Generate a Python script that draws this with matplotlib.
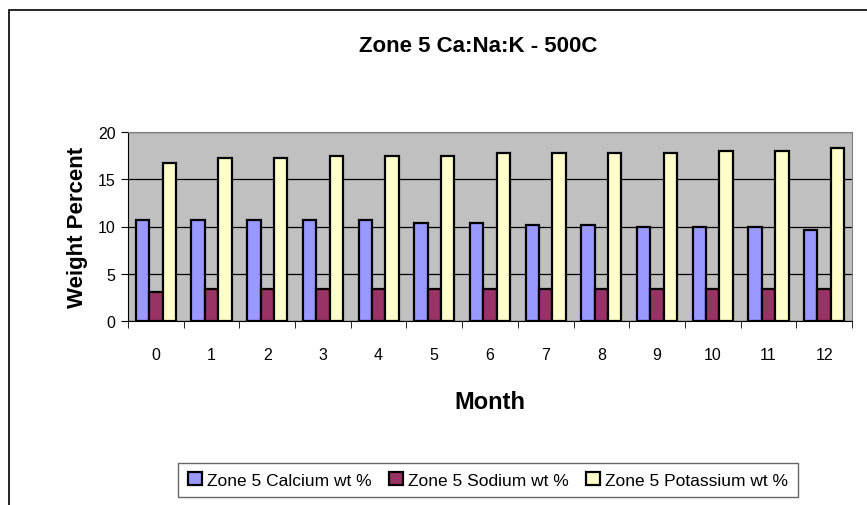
import matplotlib.pyplot as plt
import numpy as np
from matplotlib.patches import Rectangle

plt.rcParams["font.family"] = ["Liberation Sans", "DejaVu Sans"]

months = [str(m) for m in range(13)]
calcium = [10.7, 10.7, 10.7, 10.7, 10.7, 10.4, 10.4, 10.2, 10.2, 9.9, 9.9, 9.9, 9.6]
sodium = [3.1, 3.4, 3.4, 3.4, 3.4, 3.4, 3.4, 3.4, 3.4, 3.4, 3.4, 3.4, 3.4]
potassium = [16.7, 17.2, 17.2, 17.5, 17.5, 17.5, 17.8, 17.8, 17.8, 17.8, 18.0, 18.0, 18.3]
series_labels = ["Zone 5 Calcium wt %", "Zone 5 Sodium wt %", "Zone 5 Potassium wt %"]
colors = ["#9999FF", "#993366", "#FFFFCC"]


def main() -> None:
    fig = plt.figure(figsize=(8.67, 5.06), dpi=100)
    W, H = 867, 506
    ax = fig.add_axes([128 / W, 1 - 322 / H, (852 - 128) / W, (322 - 133) / H])
    ax.set_facecolor("#C0C0C0")

    # outer chart frame (cropped on right and bottom)
    fig.add_artist(Rectangle((9 / W, -0.1), 1.2, 1 - 11 / H + 0.1,
                             transform=fig.transFigure, fill=False,
                             edgecolor="black", linewidth=1.2))

    x = np.arange(len(months))
    w = 0.24
    for i, (vals, lab, col) in enumerate(zip([calcium, sodium, potassium], series_labels, colors)):
        ax.bar(x + (i - 1) * w, vals, width=w, color=col, edgecolor="black",
               linewidth=1.6, label=lab, zorder=3)

    ax.set_xlim(-0.5, 12.5)
    ax.set_ylim(0, 20)
    ax.set_yticks([0, 5, 10, 15, 20])
    ax.yaxis.grid(True, color="black", linewidth=0.9, zorder=1)
    ax.set_xticks(x)
    ax.set_xticklabels(months)
    ax.set_xticks(np.arange(-0.5, 13, 1), minor=True)
    ax.tick_params(axis="x", which="major", length=0, pad=19, labelsize=11.5)
    ax.tick_params(axis="x", which="minor", length=5, direction="out", color="black")
    ax.tick_params(axis="y", length=5, direction="out", labelsize=11.5, pad=4)
    for s in ["top", "right"]:
        ax.spines[s].set_color("#808080")
    for s in ["left", "bottom"]:
        ax.spines[s].set_color("black")

    ax.set_xlabel("Month", fontsize=17, fontweight="bold", labelpad=20)
    ax.set_ylabel("Weight Percent", fontsize=16, fontweight="bold", labelpad=7)
    fig.text(478 / W, 1 - 47 / H, "Zone 5 Ca:Na:K - 500C", ha="center", va="center",
             fontsize=16, fontweight="bold")

    leg = fig.legend(loc="center", bbox_to_anchor=(488 / W, 1 - 481 / H), ncol=3,
                     fontsize=12.5, frameon=True, fancybox=False, handlelength=0.8,
                     handleheight=0.8, handletextpad=0.3, columnspacing=1.0,
                     borderpad=0.55)
    leg.get_frame().set_edgecolor("#404040")
    leg.get_frame().set_linewidth(1.0)

    fig.savefig("out.png", dpi=100)


if __name__ == "__main__":
    main()
